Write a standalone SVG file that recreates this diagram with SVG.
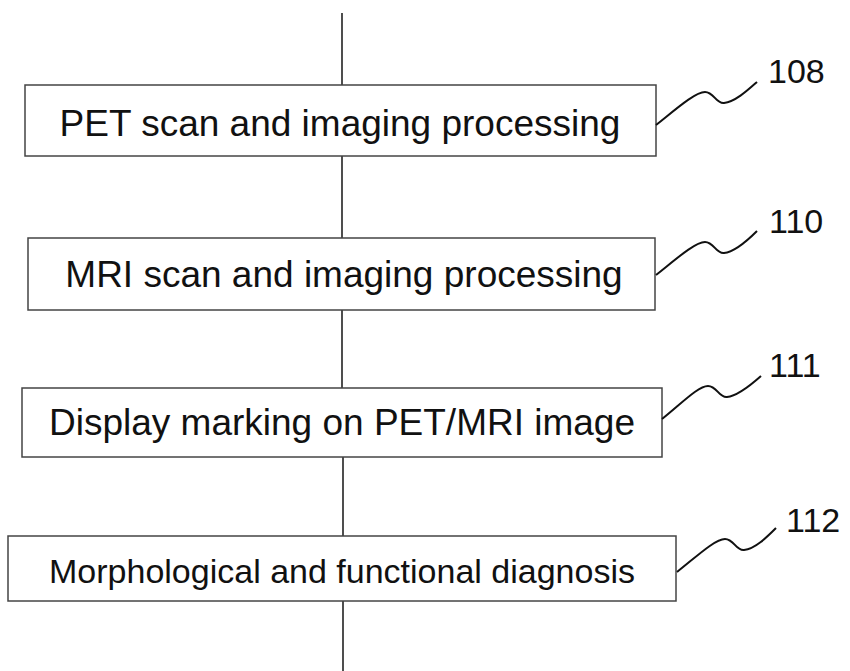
<svg xmlns="http://www.w3.org/2000/svg" width="850" height="671" viewBox="0 0 850 671">
<style>
.box{fill:#fff;stroke:#444;stroke-width:1.5}
.t{font-family:"Liberation Sans",Arial,sans-serif;fill:#111}
.conn{stroke:#222;stroke-width:1.6;fill:none}
.lead{stroke:#111;stroke-width:2;fill:none}
</style>
<rect width="850" height="671" fill="#fff"/>
<g id="connectors">
<line class="conn" x1="342" y1="13" x2="342" y2="85"/>
<line class="conn" x1="342" y1="156" x2="342" y2="238"/>
<line class="conn" x1="342" y1="310" x2="342" y2="388"/>
<line class="conn" x1="343" y1="457" x2="343" y2="536"/>
<line class="conn" x1="343" y1="601" x2="343" y2="671"/>
</g>
<g id="n108">
<rect class="box" x="25" y="85" width="631" height="71"/>
<text class="t" x="340" y="136" font-size="37" text-anchor="middle">PET scan and imaging processing</text>
<path class="lead" d="M656,125 C675,110 695,92 705,92 C714,92 716,104 724,103 C735,102 748,90 757,82"/>
<text class="t" x="768" y="83" font-size="34">108</text>
</g>
<g id="n110">
<rect class="box" x="28" y="238" width="627" height="72"/>
<text class="t" x="344" y="287" font-size="37" text-anchor="middle">MRI scan and imaging processing</text>
<path class="lead" d="M656,275 C675,260 695,242 705,242 C714,242 716,254 724,253 C735,252 748,240 757,231"/>
<text class="t" x="769" y="233" font-size="34">110</text>
</g>
<g id="n111">
<rect class="box" x="22" y="388" width="640" height="69"/>
<text class="t" x="342" y="435" font-size="37" text-anchor="middle">Display marking on PET/MRI image</text>
<path class="lead" d="M662,419 C681,404 698,386 708,386 C717,386 719,398 727,397 C738,396 752,384 761,376"/>
<text class="t" x="769" y="377" font-size="34">111</text>
</g>
<g id="n112">
<rect class="box" x="8" y="536" width="668" height="65"/>
<text class="t" x="342" y="583" font-size="34" text-anchor="middle">Morphological and functional diagnosis</text>
<path class="lead" d="M677,572 C696,557 715,539 725,539 C734,539 736,551 744,550 C755,549 767,537 776,528"/>
<text class="t" x="786" y="532" font-size="34">112</text>
</g>
</svg>
